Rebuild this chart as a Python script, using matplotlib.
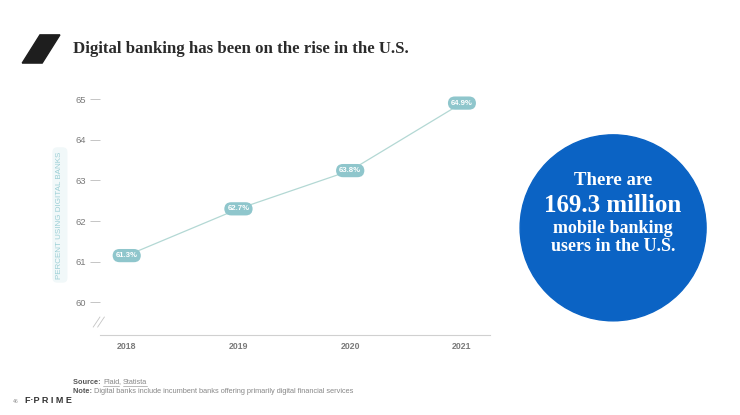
import matplotlib.pyplot as plt
from matplotlib.patches import Ellipse, Polygon
from matplotlib.lines import Line2D

plt.rcParams["font.family"] = ["Liberation Sans", "DejaVu Sans"]

years = [2018, 2019, 2020, 2021]
# where the points sit on the drawn axis
pct_pos = [61.15, 62.3, 63.24, 64.9]
pct_labels = ["61.3%", "62.7%", "63.8%", "64.9%"]
y_ticks = [60, 61, 62, 63, 64, 65]

teal = "#8fc6cc"
line_col = "#b3d8d4"
grey = "#7a7a7a"
serif = "Liberation Serif"

fig = plt.figure(figsize=(7.4, 4.15), dpi=100)
fig.patch.set_facecolor("white")

ax = fig.add_axes([0.135, 0.193, 0.527, 0.588])
ax.plot(years, pct_pos, color=line_col, linewidth=0.9, zorder=2)
for x, y, lab in zip(years, pct_pos, pct_labels):
    ax.text(x, y, lab, ha="center", va="center", fontsize=5.6, color="white",
            fontweight="bold", zorder=3,
            bbox=dict(boxstyle="round,pad=0.4,rounding_size=0.9", fc=teal, ec="none"))

ax.set_xlim(2017.76, 2021.25)
ax.set_ylim(59.2, 65.2)
ax.set_xticks(years)
ax.set_yticks(y_ticks)
ax.tick_params(axis="x", length=0, labelsize=6.3, labelcolor=grey, pad=5)
ax.tick_params(axis="y", length=7, width=0.6, color="#bbbbbb", labelsize=6.8, labelcolor=grey, pad=3)
for lab in ax.get_xticklabels():
    lab.set_fontweight("bold")
for s in ["top", "right", "left"]:
    ax.spines[s].set_visible(False)
ax.spines["bottom"].set_color("#d0d0d0")
ax.spines["bottom"].set_linewidth(0.8)

# axis break mark
for dx in (0, 0.006):
    fig.add_artist(Line2D([0.126 + dx, 0.135 + dx], [0.212, 0.236],
                          color="#c4c4c4", linewidth=0.6, transform=fig.transFigure))

fig.text(0.081, 0.482, "PERCENT USING DIGITAL BANKS", rotation=90, ha="center", va="center",
         fontsize=5.8, color="#9ccfd6",
         bbox=dict(boxstyle="round,pad=0.5,rounding_size=0.6", fc="#f1f8f9", ec="none"))

# header
fig.add_artist(Polygon([(0.054, 0.916), (0.081, 0.916), (0.057, 0.848), (0.030, 0.848)],
                       closed=True, color="#1e1e1e", transform=fig.transFigure))
fig.text(0.099, 0.883, "Digital banking has been on the rise in the U.S.", fontsize=12.1,
         fontweight="bold", family=serif, color="#2b2b2b", va="center")

# callout circle
fig.add_artist(Ellipse((0.8285, 0.451), 2 * 93 / 740, 2 * 93 / 415, color="#0b63c4",
                       transform=fig.transFigure))
fig.text(0.8285, 0.566, "There are", ha="center", va="center", fontsize=13.5,
         fontweight="bold", family=serif, color="white")
fig.text(0.8285, 0.505, "169.3 million", ha="center", va="center", fontsize=18,
         fontweight="bold", family=serif, color="white")
fig.text(0.8285, 0.449, "mobile banking", ha="center", va="center", fontsize=13,
         fontweight="bold", family=serif, color="white")
fig.text(0.8285, 0.405, "users in the U.S.", ha="center", va="center", fontsize=13,
         fontweight="bold", family=serif, color="white")

# footer
fig.canvas.draw()
r = fig.canvas.get_renderer()
inv = fig.transFigure.inverted()


def put(x, y, s, **kw):
    t = fig.text(x, y, s, fontsize=5.3, va="baseline", **kw)
    bb = t.get_window_extent(r)
    return t, inv.transform((bb.x1, bb.y0))[0]


y1, y2 = 0.075, 0.054
_, x = put(0.099, y1, "Source: ", color="#555555", fontweight="bold")
for i, part in enumerate(["Plaid", "Statista"]):
    t, x_end = put(x, y1, part, color="#888888")
    fig.add_artist(Line2D([x, x_end], [y1 - 0.005, y1 - 0.005], color="#888888",
                          linewidth=0.4, transform=fig.transFigure))
    x = x_end
    if i == 0:
        _, x = put(x, y1, ", ", color="#888888")
_, x = put(0.099, y2, "Note: ", color="#555555", fontweight="bold")
put(x, y2, "Digital banks include incumbent banks offering primarily digital financial services",
    color="#888888")

fig.text(0.018, 0.030, "46", fontsize=3.8, color="#999999", va="baseline")
fig.text(0.034, 0.030, "F\u00b7P R I M E", fontsize=6.5, color="#333333", fontweight="bold",
         va="baseline")

fig.savefig("out.png", dpi=100, facecolor="white")
